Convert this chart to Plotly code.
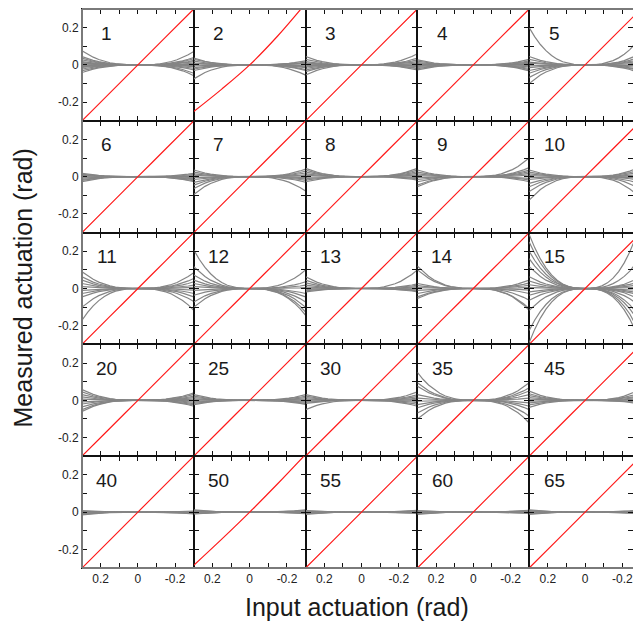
import plotly.graph_objects as go
from plotly.subplots import make_subplots

# ---------------- data ----------------
PANEL_LABELS = ["1", "2", "3", "4", "5",
                "6", "7", "8", "9", "10",
                "11", "12", "13", "14", "15",
                "20", "25", "30", "35", "45",
                "40", "50", "55", "60", "65"]

# tick values / labels
TICK_VALS = [-0.2, -0.1, 0.0, 0.1, 0.2]
TICK_TEXT = ["-0.2", "", "0", "", "0.2"]

PROFILE_T = [0.0, 0.1, 0.2, 0.3, 0.4, 0.5, 0.6, 0.7, 0.8, 0.9, 1.0]
PROFILE_P = [0.0, 0.002, 0.013, 0.039, 0.084, 0.154, 0.252, 0.382, 0.547, 0.752, 1.0]

# gray curves: value at x=+0.3 (left edge) and at x=-0.3 (right edge), rad
L_1 = [0.076, 0.045, 0.036, 0.027, 0.018, 0.013, 0.009, 0.004, -0.004, -0.009, -0.014, -0.022, -0.031, -0.041]
R_1 = [0.072, 0.040, 0.033, 0.024, 0.018, 0.009, 0.004, 0.000, -0.004, -0.009, -0.018, -0.027, -0.045, -0.058]
L_2 = [0.036, 0.030, 0.020, 0.010, 0.005, -0.005, -0.015, -0.022, -0.030, -0.075]
R_2 = [0.022, 0.015, 0.010, 0.005, -0.005, -0.010, -0.015, -0.025, -0.030, -0.055]
L_3 = [0.045, 0.030, 0.018, 0.009, 0.004, -0.004, -0.010, -0.018, -0.027, -0.036, -0.054]
R_3 = [0.060, 0.036, 0.027, 0.018, 0.009, 0.004, -0.004, -0.009, -0.018, -0.027, -0.020]
L_4 = [0.027, 0.020, 0.013, 0.007, 0.003, -0.003, -0.008, -0.014, -0.020, -0.027]
R_4 = [0.030, 0.022, 0.015, 0.008, 0.003, -0.003, -0.010, -0.018, -0.025, -0.032]
L_5 = [0.200, 0.045, 0.030, 0.015, 0.008, -0.005, -0.015, -0.030, -0.045, -0.067, -0.100]
R_5 = [0.150, 0.060, 0.045, 0.030, 0.020, 0.010, -0.005, -0.015, -0.025, -0.035, -0.045]
L_6 = [0.018, 0.012, 0.007, 0.003, -0.003, -0.008, -0.014, -0.020, -0.027]
R_6 = [0.018, 0.012, 0.006, 0.002, -0.004, -0.010, -0.016, -0.022, -0.027]
L_7 = [0.036, 0.025, 0.015, 0.007, -0.005, -0.015, -0.030, -0.045, -0.063, -0.095]
R_7 = [0.041, 0.030, 0.020, 0.010, 0.004, -0.005, -0.012, -0.020, -0.030, -0.077]
L_8 = [0.045, 0.035, 0.025, 0.015, 0.007, -0.003, -0.010, -0.018, -0.027]
R_8 = [0.045, 0.036, 0.027, 0.018, 0.010, 0.004, -0.004, -0.010, -0.018]
L_9 = [0.036, 0.025, 0.015, 0.006, -0.005, -0.015, -0.027, -0.045, -0.054]
R_9 = [0.100, 0.049, 0.036, 0.027, 0.018, 0.009, -0.009, -0.018, -0.027]
L_10 = [0.036, 0.025, 0.015, 0.006, -0.005, -0.015, -0.036, -0.054, -0.080, -0.126]
R_10 = [0.055, 0.040, 0.025, 0.012, 0.004, -0.006, -0.020, -0.040, -0.070, -0.120]
L_11 = [0.090, 0.063, 0.045, 0.027, 0.010, -0.010, -0.027, -0.045, -0.100, -0.170]
R_11 = [0.085, 0.054, 0.036, 0.018, 0.006, -0.009, -0.027, -0.045, -0.070, -0.117]
L_12 = [0.207, 0.117, 0.072, 0.045, 0.027, 0.010, -0.010, -0.036, -0.072, -0.100]
R_12 = [0.100, 0.036, 0.018, 0.005, -0.027, -0.045, -0.072, -0.100, -0.126, -0.144]
L_13 = [0.063, 0.045, 0.030, 0.018, 0.008, 0.002, -0.005, -0.012, -0.018]
R_13 = [0.100, 0.025, 0.018, 0.010, 0.004, -0.002, -0.008, -0.013, -0.018]
L_14 = [0.120, 0.100, 0.027, 0.015, 0.005, -0.010, -0.027, -0.045, -0.054]
R_14 = [0.045, 0.030, 0.018, 0.006, -0.009, -0.027, -0.063, -0.108, -0.117]
L_15 = [0.290, 0.250, 0.200, 0.160, 0.117, 0.063, 0.040, 0.020, 0.005, -0.018, -0.036, -0.063, -0.117, -0.225, -0.290]
R_15 = [0.360, 0.170, 0.060, 0.040, 0.020, 0.005, -0.010, -0.025, -0.040, -0.060, -0.100, -0.160, -0.200, -0.250, -0.300]
L_20 = [0.058, 0.045, 0.030, 0.018, 0.006, -0.008, -0.020, -0.035, -0.050, -0.060]
R_20 = [0.040, 0.032, 0.022, 0.014, 0.006, -0.002, -0.010, -0.018, -0.025, -0.032]
L_25 = [0.030, 0.022, 0.015, 0.008, 0.002, -0.004, -0.010, -0.016, -0.023]
R_25 = [0.030, 0.022, 0.014, 0.007, 0.002, -0.004, -0.010, -0.016, -0.022]
L_30 = [0.030, 0.022, 0.015, 0.008, 0.002, -0.004, -0.010, -0.016, -0.050]
R_30 = [0.045, 0.030, 0.020, 0.012, 0.004, -0.004, -0.012, -0.022, -0.032]
L_35 = [0.150, 0.094, 0.075, 0.030, 0.012, -0.005, -0.023, -0.040, -0.068, -0.100]
R_35 = [0.094, 0.067, 0.050, 0.030, 0.012, -0.014, -0.032, -0.050, -0.086, -0.122]
L_45 = [0.049, 0.035, 0.025, 0.015, 0.006, -0.004, -0.014, -0.025, -0.038]
R_45 = [0.058, 0.040, 0.028, 0.018, 0.009, 0.002, -0.006, -0.013, -0.020]
L_40 = [0.008, 0.004, 0.001, -0.003, -0.007, -0.011, -0.015]
R_40 = [0.006, 0.003, 0.000, -0.003, -0.005, -0.008, -0.010]
L_50 = [0.012, 0.008, 0.004, 0.000, -0.004, -0.008, -0.010]
R_50 = [0.012, 0.008, 0.005, 0.002, -0.002, -0.005, -0.008]
L_55 = [0.008, 0.005, 0.002, -0.002, -0.005, -0.008, -0.012]
R_55 = [0.010, 0.007, 0.004, 0.001, -0.002, -0.005, -0.008]
L_60 = [0.008, 0.005, 0.002, -0.002, -0.005, -0.008, -0.012]
R_60 = [0.010, 0.007, 0.004, 0.001, -0.002, -0.005, -0.008]
L_65 = [0.012, 0.008, 0.004, 0.000, -0.004, -0.008, -0.012]
R_65 = [0.012, 0.008, 0.004, 0.001, -0.002, -0.005, -0.008]

# red reference (identity) line, sampled at these inputs
RED_X = [0.3, 0.15, 0.0, -0.15, -0.3]
RED_Y_DEFAULT = [-0.3, -0.15, 0.0, 0.15, 0.3]
RED_Y_2 = [-0.25, -0.13, 0.0, 0.155, 0.33]
RED_Y_50 = [-0.285, -0.145, 0.0, 0.152, 0.31]

LEFT_ENDS = {"1": L_1, "2": L_2, "3": L_3, "4": L_4, "5": L_5, "6": L_6, "7": L_7,
             "8": L_8, "9": L_9, "10": L_10, "11": L_11, "12": L_12, "13": L_13,
             "14": L_14, "15": L_15, "20": L_20, "25": L_25, "30": L_30, "35": L_35,
             "45": L_45, "40": L_40, "50": L_50, "55": L_55, "60": L_60, "65": L_65}
RIGHT_ENDS = {"1": R_1, "2": R_2, "3": R_3, "4": R_4, "5": R_5, "6": R_6, "7": R_7,
              "8": R_8, "9": R_9, "10": R_10, "11": R_11, "12": R_12, "13": R_13,
              "14": R_14, "15": R_15, "20": R_20, "25": R_25, "30": R_30, "35": R_35,
              "45": R_45, "40": R_40, "50": R_50, "55": R_55, "60": R_60, "65": R_65}
RED_Y = {"2": RED_Y_2, "50": RED_Y_50}

# ---------------- figure ----------------
W, H = 633, 630
ML, MT, MB = 82, 9, 62
PANEL_W = 111.8
LAST_W = W - ML - 4 * PANEL_W
X_LAST_MIN = 0.3 - 0.6 * LAST_W / PANEL_W

fig = make_subplots(rows=5, cols=5, horizontal_spacing=0, vertical_spacing=0,
                    column_widths=[PANEL_W] * 4 + [LAST_W])

FONT = "Liberation Sans"
GRAY = "#858585"

for idx, lab in enumerate(PANEL_LABELS):
    r, c = idx // 5 + 1, idx % 5 + 1
    xs, ys = [], []
    for lv, rv in zip(LEFT_ENDS[lab], RIGHT_ENDS[lab]):
        for t, p in zip(PROFILE_T[::-1], PROFILE_P[::-1]):
            xs.append(0.3 * t)
            ys.append(lv * p)
        for t, p in zip(PROFILE_T[1:], PROFILE_P[1:]):
            xs.append(-0.3 * t)
            ys.append(rv * p)
        xs.append(None)
        ys.append(None)
    fig.add_trace(go.Scatter(x=xs, y=ys, mode="lines", line=dict(color=GRAY, width=1.2),
                             hoverinfo="skip", showlegend=False), row=r, col=c)
    fig.add_trace(go.Scatter(x=RED_X, y=RED_Y.get(lab, RED_Y_DEFAULT), mode="lines",
                             line=dict(color="#ff1a1a", width=1.2, shape="spline"),
                             hoverinfo="skip", showlegend=False), row=r, col=c)
    n = idx + 1
    xr = "x" if n == 1 else f"x{n}"
    yr = "y" if n == 1 else f"y{n}"
    fig.add_annotation(x=0.166, y=0.171, xref=xr, yref=yr, text=lab, showarrow=False,
                       font=dict(family=FONT, size=19, color="#1a1a1a"),
                       xanchor="center", yanchor="middle")

    xrange = [0.3, -0.3] if c < 5 else [0.3, X_LAST_MIN]
    fig.update_xaxes(range=xrange, tickvals=TICK_VALS, ticktext=TICK_TEXT,
                     showticklabels=(r == 5), ticks="inside", ticklen=5, tickwidth=1,
                     tickcolor="#111", showline=True, linecolor="#111", linewidth=1,
                     mirror="ticks", showgrid=False, zeroline=False,
                     ticklabeloverflow="allow",
                     tickfont=dict(family=FONT, size=12, color="#222"), row=r, col=c)
    fig.update_yaxes(range=[-0.3, 0.3], tickvals=TICK_VALS, ticktext=TICK_TEXT,
                     showticklabels=(c == 1), ticks="inside", ticklen=5, tickwidth=1,
                     tickcolor="#111", showline=True, linecolor="#111", linewidth=1,
                     mirror="ticks", showgrid=False, zeroline=False,
                     tickfont=dict(family=FONT, size=12, color="#222"), row=r, col=c)

# outer gray frame (left, top, bottom)
for x0, y0, x1, y1 in [(0, 0, 0, 1), (0, 1, 1, 1), (0, 0, 1, 0)]:
    fig.add_shape(type="line", xref="paper", yref="paper", x0=x0, y0=y0, x1=x1, y1=y1,
                  line=dict(color="#7a7a7a", width=2), layer="above")

fig.add_annotation(xref="paper", yref="paper", x=(357 - ML) / (W - ML), y=-(607 - (H - MB)) / (H - MT - MB),
                   text="Input actuation (rad)", showarrow=False,
                   font=dict(family=FONT, size=25, color="#1a1a1a"),
                   xanchor="center", yanchor="middle")
fig.add_annotation(xref="paper", yref="paper", x=(22 - ML) / (W - ML), y=0.5,
                   text="Measured actuation (rad)", showarrow=False, textangle=-90,
                   font=dict(family=FONT, size=25, color="#1a1a1a"),
                   xanchor="center", yanchor="middle")

fig.update_layout(width=W, height=H, margin=dict(l=ML, r=0, t=MT, b=MB),
                  plot_bgcolor="white", paper_bgcolor="white", showlegend=False)

fig.write_html("out.html", config={"displayModeBar": False},
               post_script="document.body.style.margin='0';document.body.style.overflow='hidden';")
